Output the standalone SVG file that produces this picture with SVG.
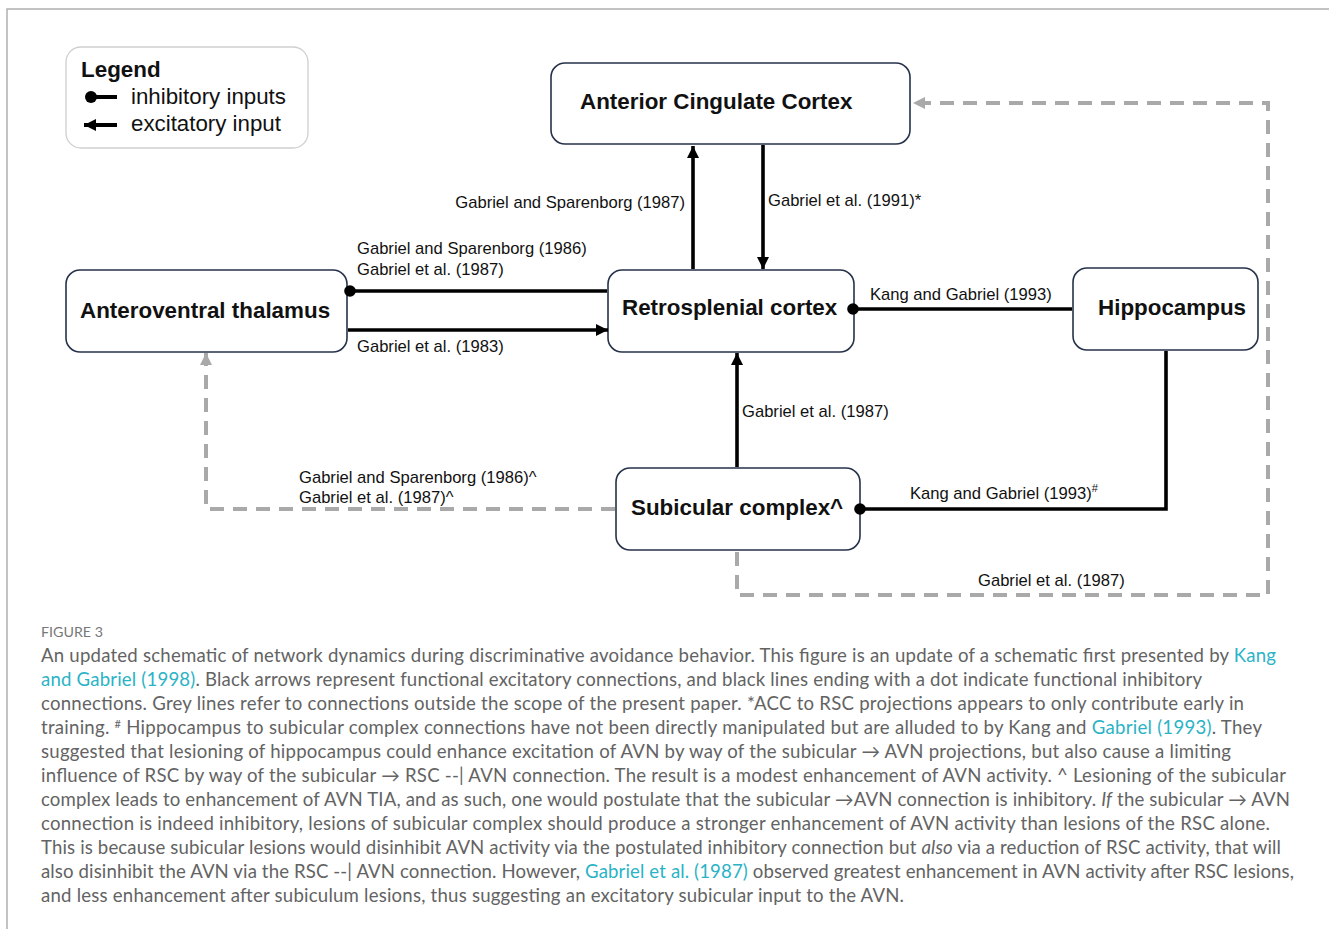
<svg xmlns="http://www.w3.org/2000/svg" width="1329" height="929" viewBox="0 0 1329 929">
<defs>
<style>
.node{fill:#fff;stroke:#26324a;stroke-width:1.6}
.nl{font-family:"Liberation Sans",Arial,sans-serif;font-weight:bold;font-size:22.4px;fill:#111}
.lb{font-family:"Liberation Sans",Arial,sans-serif;font-size:16.6px;fill:#111}
.blk{fill:none;stroke:#000;stroke-width:3.6}
.gry{fill:none;stroke:#a9a9a9;stroke-width:4;stroke-dasharray:14 9}
.cap{font-family:Lato,"Open Sans",sans-serif;font-size:18.6px;fill:#636363}
.lnk{fill:#2ab3c6}
</style>
<marker id="arr" markerUnits="userSpaceOnUse" markerWidth="14" markerHeight="14" refX="12" refY="6" orient="auto" viewBox="0 0 14 14">
<path d="M0,0 L12,6 L0,12 z" fill="#000"/>
</marker>
<marker id="garr" markerUnits="userSpaceOnUse" markerWidth="14" markerHeight="14" refX="12" refY="6" orient="auto" viewBox="0 0 14 14">
<path d="M0,0 L12,6 L0,12 z" fill="#a9a9a9"/>
</marker>
<marker id="dot" markerUnits="userSpaceOnUse" markerWidth="14" markerHeight="14" refX="7" refY="7" orient="auto" viewBox="0 0 14 14">
<circle cx="7" cy="7" r="5.8" fill="#000"/>
</marker>
</defs>
<rect width="1329" height="929" fill="#fff"/>
<path d="M7,929 V9 H1329" fill="none" stroke="#b0b0b0" stroke-width="1.5"/>

<g id="legend">
<rect x="66" y="47" width="242" height="101" rx="15" fill="#fff" stroke="#cfcfcf" stroke-width="1.3"/>
<text x="81" y="77" class="nl">Legend</text>
<line x1="91" y1="97" x2="117" y2="97" stroke="#000" stroke-width="4"/>
<circle cx="91" cy="97" r="6" fill="#000"/>
<line x1="117" y1="125" x2="84" y2="125" stroke="#000" stroke-width="4" marker-end="url(#arr)"/>
<text x="131" y="104" font-family="Liberation Sans,Arial,sans-serif" font-size="22.3" fill="#111">inhibitory inputs</text>
<text x="131" y="131" font-family="Liberation Sans,Arial,sans-serif" font-size="22.3" fill="#111">excitatory input</text>
</g>

<g id="acc">
<rect class="node" x="551" y="63" width="359" height="81" rx="14"/>
<text class="nl" x="580" y="109">Anterior Cingulate Cortex</text>
</g>
<g id="avt">
<rect class="node" x="66" y="270" width="281" height="82" rx="14"/>
<text class="nl" x="80" y="318">Anteroventral thalamus</text>
</g>
<g id="rsc">
<rect class="node" x="608" y="270" width="246" height="82" rx="14"/>
<text class="nl" x="622" y="315">Retrosplenial cortex</text>
</g>
<g id="hippocampus">
<rect class="node" x="1073" y="268" width="185" height="82" rx="14"/>
<text class="nl" x="1098" y="315">Hippocampus</text>
</g>
<g id="subicular">
<rect class="node" x="616" y="468" width="244" height="82" rx="14"/>
<text class="nl" x="631" y="515">Subicular complex^</text>
</g>

<g id="connectors">
<path class="gry" d="M737,552 V595 H1268 V103 H913" marker-end="url(#garr)"/>
<path class="gry" d="M615,509 H206 V353" marker-end="url(#garr)"/>
<line class="blk" x1="693" y1="269" x2="693" y2="146" marker-end="url(#arr)"/>
<line class="blk" x1="763" y1="145" x2="763" y2="269" marker-end="url(#arr)"/>
<line class="blk" x1="350" y1="291" x2="607" y2="291" marker-start="url(#dot)"/>
<line class="blk" x1="348" y1="330" x2="608" y2="330" marker-end="url(#arr)"/>
<line class="blk" x1="853" y1="309" x2="1072" y2="309" marker-start="url(#dot)"/>
<line class="blk" x1="737" y1="467" x2="737" y2="353" marker-end="url(#arr)"/>
<path class="blk" d="M860,509 H1166 V351" marker-start="url(#dot)"/>
<text class="lb" x="685" y="208" text-anchor="end">Gabriel and Sparenborg (1987)</text>
<text class="lb" x="768" y="206">Gabriel et al. (1991)*</text>
<text class="lb" x="357" y="254">Gabriel and Sparenborg (1986)</text>
<text class="lb" x="357" y="275">Gabriel et al. (1987)</text>
<text class="lb" x="357" y="352">Gabriel et al. (1983)</text>
<text class="lb" x="870" y="300">Kang and Gabriel (1993)</text>
<text class="lb" x="742" y="417">Gabriel et al. (1987)</text>
<text class="lb" x="910" y="499">Kang and Gabriel (1993)<tspan font-size="11" dy="-7">#</tspan></text>
<text class="lb" x="299" y="483">Gabriel and Sparenborg (1986)^</text>
<text class="lb" x="299" y="503">Gabriel et al. (1987)^</text>
<text class="lb" x="978" y="586">Gabriel et al. (1987)</text>
</g>

<g id="caption">
<text x="41" y="637" font-family="Lato,'Open Sans',sans-serif" font-size="13" fill="#777" textLength="62" lengthAdjust="spacingAndGlyphs">FIGURE 3</text>
<text class="cap" x="41" y="662" textLength="1235" lengthAdjust="spacing">An updated schematic of network dynamics during discriminative avoidance behavior. This figure is an update of a schematic first presented by <tspan class="lnk">Kang</tspan></text>
<text class="cap" x="41" y="686" textLength="1161" lengthAdjust="spacing"><tspan class="lnk">and Gabriel (1998)</tspan>. Black arrows represent functional excitatory connections, and black lines ending with a dot indicate functional inhibitory</text>
<text class="cap" x="41" y="710" textLength="1203" lengthAdjust="spacing">connections. Grey lines refer to connections outside the scope of the present paper. *ACC to RSC projections appears to only contribute early in</text>
<text class="cap" x="41" y="734" textLength="1221" lengthAdjust="spacing">training. <tspan font-size="11" dy="-6">#</tspan><tspan dy="6"> Hippocampus to subicular complex connections have not been directly manipulated but are alluded to by Kang and </tspan><tspan class="lnk">Gabriel (1993)</tspan>. They</text>
<text class="cap" x="41" y="758" textLength="1190" lengthAdjust="spacing">suggested that lesioning of hippocampus could enhance excitation of AVN by way of the subicular → AVN projections, but also cause a limiting</text>
<text class="cap" x="41" y="782" textLength="1245" lengthAdjust="spacing">influence of RSC by way of the subicular → RSC --| AVN connection. The result is a modest enhancement of AVN activity. ^ Lesioning of the subicular</text>
<text class="cap" x="41" y="806" textLength="1249" lengthAdjust="spacing">complex leads to enhancement of AVN TIA, and as such, one would postulate that the subicular →AVN connection is inhibitory. <tspan font-style="italic">If</tspan> the subicular → AVN</text>
<text class="cap" x="41" y="830" textLength="1229" lengthAdjust="spacing">connection is indeed inhibitory, lesions of subicular complex should produce a stronger enhancement of AVN activity than lesions of the RSC alone.</text>
<text class="cap" x="41" y="854" textLength="1240" lengthAdjust="spacing">This is because subicular lesions would disinhibit AVN activity via the postulated inhibitory connection but <tspan font-style="italic">also</tspan> via a reduction of RSC activity, that will</text>
<text class="cap" x="41" y="878" textLength="1253" lengthAdjust="spacing">also disinhibit the AVN via the RSC --| AVN connection. However, <tspan class="lnk">Gabriel et al. (1987)</tspan> observed greatest enhancement in AVN activity after RSC lesions,</text>
<text class="cap" x="41" y="902" textLength="863" lengthAdjust="spacing">and less enhancement after subiculum lesions, thus suggesting an excitatory subicular input to the AVN.</text>
</g>
</svg>
